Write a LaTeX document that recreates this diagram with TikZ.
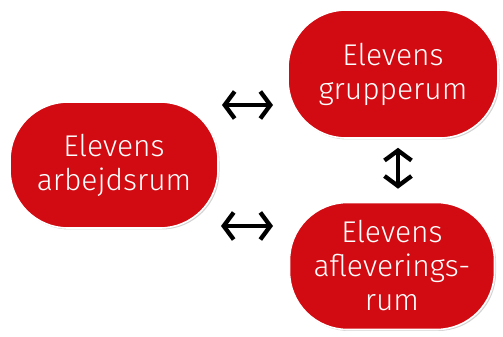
\documentclass[tikz,border=0pt]{standalone}
\usepackage{fontspec}
\setmainfont{Fira Sans}[UprightFont=* Light]
\usepackage{xcolor}
\usetikzlibrary{positioning, shadows}
\usetikzlibrary{arrows.meta}
\definecolor{roomred}{HTML}{D20A11}
\tikzset{chevron/.tip={Straight Barb[length=10pt,width=27pt,line width=4.3pt,sharp]}}

\begin{document}
\begin{tikzpicture}[x=1pt, y=1pt, room/.style={rectangle, rounded corners=58pt, draw=white, line width=1.6pt, fill=roomred, text=white, align=center, font=\fontsize{30}{34}\selectfont, inner sep=0pt, drop shadow={opacity=0.35, shadow xshift=1.5pt, shadow yshift=-1.5pt}}, link/.style={chevron-chevron, line width=3.6pt}]
    \useasboundingbox (0,0) rectangle (503,337);

    %Nodes
    \node[room, minimum width=208pt, minimum height=126pt](arbejd) at (114,172){Elevens\\arbejdsrum};
    \node[room, minimum width=210pt, minimum height=128pt](gruppe) at (393,263){Elevens\\grupperum};
    \node[room, minimum width=205pt, minimum height=127pt](aflever) at (392,71){Elevens\\afleverings-\\rum};

    %Arrow ends
    \coordinate (toplft) at (222,232);
    \coordinate (toprgt) at (273,232);
    \coordinate (botlft) at (221,111);
    \coordinate (botrgt) at (273,111);

    %Lines
    \draw[link] (toplft) -- (toprgt);
    \draw[link] (botlft) -- (botrgt);
    \draw[link, shorten <=9pt, shorten >=13pt] ([xshift=5pt]gruppe.south) -- ([xshift=5pt]gruppe.south |- aflever.north);

\end{tikzpicture}
\end{document}
